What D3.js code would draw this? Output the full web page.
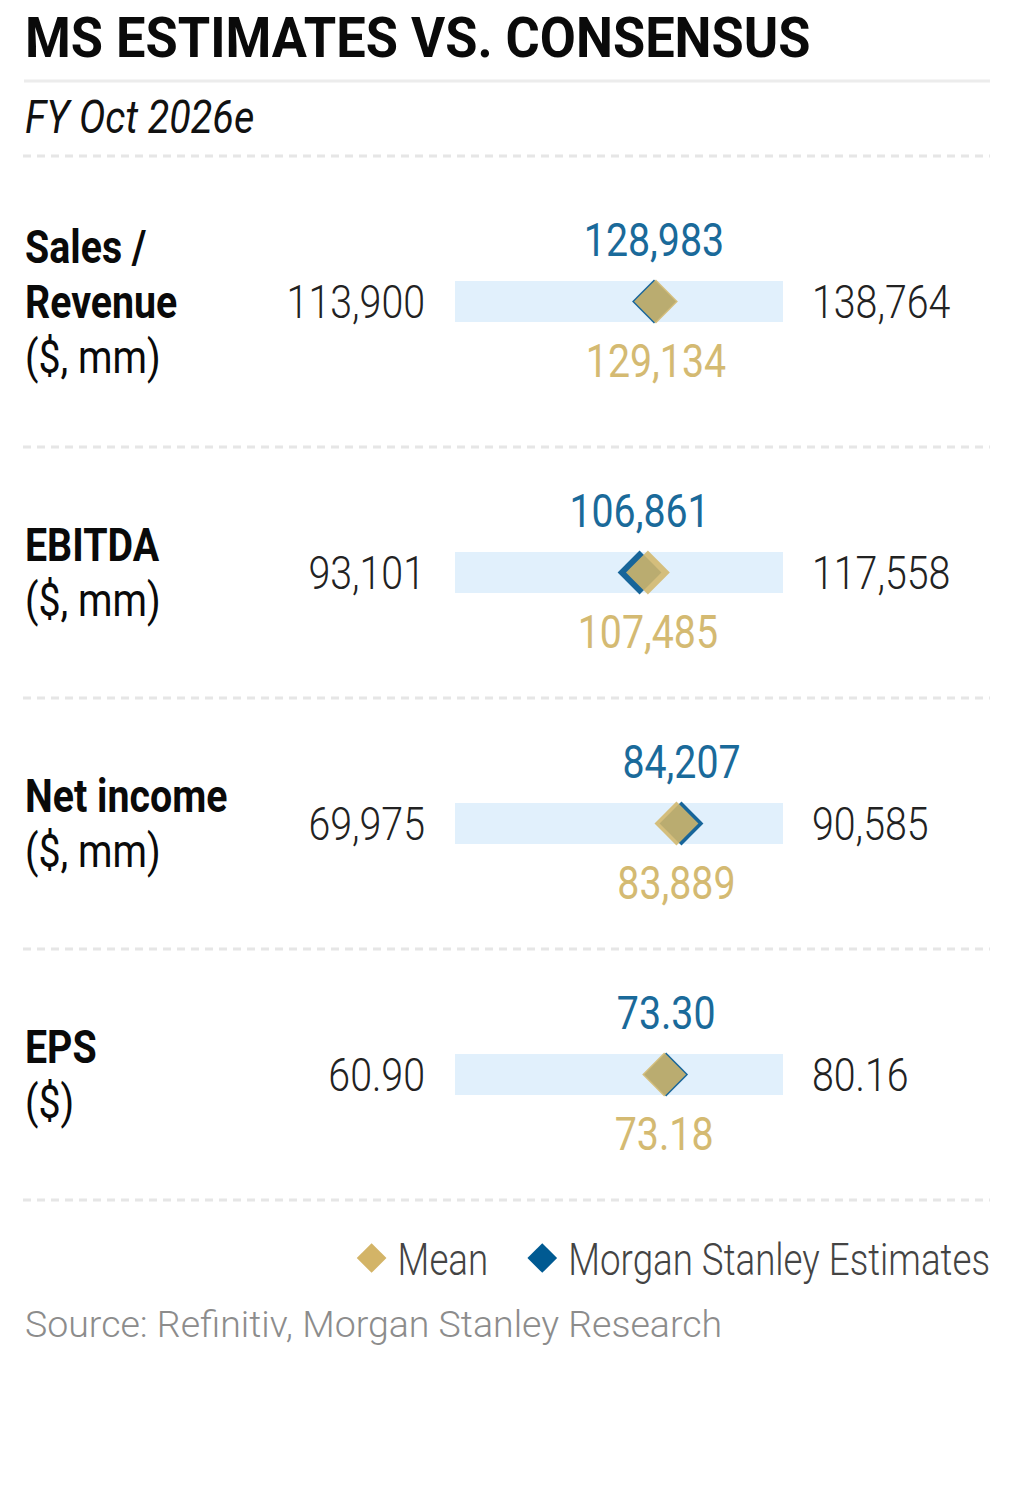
<!DOCTYPE html>
<html>
<head>
<meta charset="utf-8">
<script src="https://cdn.jsdelivr.net/npm/d3@7"></script>
<style>
  body { margin: 0; background: #fff; }
  svg text { font-family: Roboto, "Liberation Sans", sans-serif; }
</style>
</head>
<body>
<svg id="chart"></svg>
<script>
// MS estimates vs consensus — range bars with diamond markers

const W = 1026;
const H = 1506;

const metricNames = [["Sales /", "Revenue"], ["EBITDA"], ["Net income"], ["EPS"]];
const metricUnits = ["($, mm)", "($, mm)", "($, mm)", "($)"];
const lowValues = [113900, 93101, 69975, 60.90];
const highValues = [138764, 117558, 90585, 80.16];
const msValues = [128983, 106861, 84207, 73.30];
const meanValues = [129134, 107485, 83889, 73.18];
const valueDecimals = [0, 0, 0, 2];
const legendLabels = ["Mean", "Morgan Stanley Estimates"];

const COND = 0.855;          // fake "condensed" width
const BLUE = "#1a6a9a";
const BLUE_MARK = "#17659a";
const GOLD = "#d4ba72";
const GOLD_MARK = "#d2b66a";
const BAR_FILL = "#e1f0fc";
const LEFT = 25, RIGHT = 990;
const BAR_X0 = 455, BAR_X1 = 783;
const BAR_H = 41;
const FS = 46;

const svg = d3.select("#chart")
    .attr("width", W)
    .attr("height", H)
    .attr("viewBox", `0 0 ${W} ${H}`);

function condText(g, x, y, str, opts = {}) {
    const sx = opts.sx || COND;
    return g.append("text")
        .attr("transform", `translate(${x},${y}) scale(${sx},1)`)
        .attr("text-anchor", opts.anchor || "start")
        .attr("font-size", opts.size || FS)
        .attr("font-weight", opts.weight || 400)
        .attr("font-style", opts.style || "normal")
        .attr("fill", opts.fill || "#111")
        .text(str);
}

function dashedRule(y) {
    svg.append("line")
        .attr("x1", LEFT - 2).attr("x2", RIGHT)
        .attr("y1", y).attr("y2", y)
        .attr("stroke", "#e6e6e6")
        .attr("stroke-width", 3)
        .attr("stroke-dasharray", "8,6");
}

// --- Header ---
condText(svg, LEFT, 57, "MS ESTIMATES VS. CONSENSUS", { size: 56, weight: 700, sx: 0.935, fill: "#0a0a0a" });

svg.append("line")
    .attr("x1", LEFT - 1).attr("x2", RIGHT)
    .attr("y1", 81).attr("y2", 81)
    .attr("stroke", "#ececec")
    .attr("stroke-width", 3);

condText(svg, LEFT, 133, "FY Oct 2026e", { size: 46, style: "italic", sx: 0.86, fill: "#111" });

// --- Rows ---
const TOP = 156;
const rowHeights = metricNames.map(n => 171 + 40 * (n.length + 1));
const rowTops = [TOP, ...d3.cumsum(rowHeights).map(v => TOP + v)];

dashedRule(TOP);

const diamond = d3.symbol(d3.symbolSquare, 31 * 31);

metricNames.forEach((names, i) => {
    const c = rowTops[i] + rowHeights[i] / 2;
    const fmt = d3.format(valueDecimals[i] ? ",.2f" : ",.0f");
    const x = d3.scaleLinear()
        .domain([lowValues[i], highValues[i]])
        .range([BAR_X0, BAR_X1]);

    const g = svg.append("g").attr("class", "row");

    // label block
    const lines = [...names.map(t => ({ t, bold: true })), { t: metricUnits[i], bold: false }];
    const firstBase = c + 16 - (lines.length - 1) * 55 / 2;
    lines.forEach((ln, k) => {
        condText(g, LEFT, firstBase + k * 55, ln.t, {
            weight: ln.bold ? 700 : 400, fill: "#0a0a0a"
        });
    });

    // range bar
    g.append("rect")
        .attr("x", x(lowValues[i]))
        .attr("y", c - BAR_H / 2)
        .attr("width", x(highValues[i]) - x(lowValues[i]))
        .attr("height", BAR_H)
        .attr("fill", BAR_FILL);

    condText(g, x(lowValues[i]) - 30, c + 16, fmt(lowValues[i]), { anchor: "end", weight: 300, fill: "#222" });
    condText(g, x(highValues[i]) + 29, c + 16, fmt(highValues[i]), { anchor: "start", weight: 300, fill: "#222" });

    // markers: MS behind, mean on top
    g.append("path")
        .attr("d", diamond)
        .attr("transform", `translate(${x(msValues[i])},${c}) rotate(45)`)
        .attr("fill", BLUE_MARK);

    g.append("path")
        .attr("d", diamond)
        .attr("transform", `translate(${x(meanValues[i])},${c}) rotate(45)`)
        .attr("fill", GOLD_MARK)
        .attr("fill-opacity", 0.88);

    condText(g, x(msValues[i]), c - 46, fmt(msValues[i]), { anchor: "middle", fill: BLUE });
    condText(g, x(meanValues[i]), c + 75, fmt(meanValues[i]), { anchor: "middle", fill: GOLD });

    dashedRule(rowTops[i + 1]);
});

// --- Legend (right aligned) ---
const legendY = 1275;
const legendColors = ["#d3b467", "#005a92"];
const LEG_SX = 0.835;
const lg = svg.append("g").attr("class", "legend");
let cursor = RIGHT;
for (let k = legendLabels.length - 1; k >= 0; k--) {
    const t = condText(lg, cursor, legendY, legendLabels[k], { anchor: "end", size: 44, sx: LEG_SX, weight: 300, fill: "#444" });
    const w = t.node().getComputedTextLength() * LEG_SX;
    const tx = cursor - w;
    lg.append("path")
        .attr("d", d3.symbol(d3.symbolSquare, 21 * 21))
        .attr("transform", `translate(${tx - 26},${legendY - 17}) rotate(45)`)
        .attr("fill", legendColors[k]);
    cursor = tx - 26 - 54;
}

// --- Source ---
svg.append("text")
    .attr("transform", `translate(${LEFT},1337) scale(1.0,1)`)
    .attr("font-family", "'Open Sans', 'Noto Sans', sans-serif")
    .attr("font-size", 37.5)
    .attr("font-weight", 300)
    .attr("fill", "#8c8c8c")
    .text("Source: Refinitiv, Morgan Stanley Research");
</script>
</body>
</html>
